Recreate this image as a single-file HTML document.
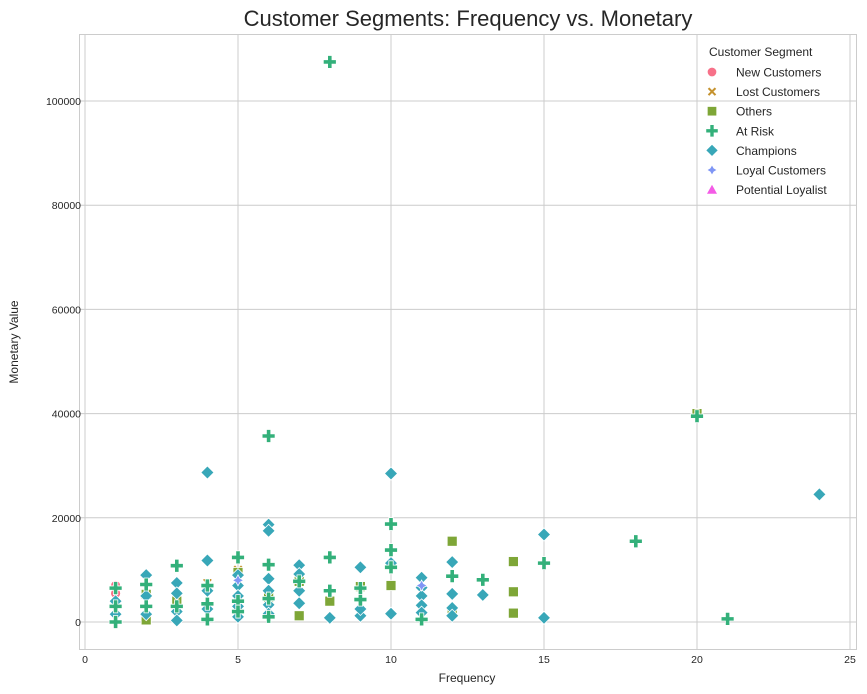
<!DOCTYPE html>
<html><head><meta charset="utf-8"><style>
body{margin:0;background:#fff;}
svg{display:block;font-family:"Liberation Sans","DejaVu Sans",sans-serif;}
</style></head><body>
<svg id="s" width="867" height="694" xmlns="http://www.w3.org/2000/svg">
<rect width="867" height="694" fill="#fff"/>
<g id="grid" stroke="#cccccc" stroke-width="1"></g>
<rect x="79.5" y="34.5" width="777" height="615" fill="none" stroke="#cccccc"/>
<g id="pts"></g>
<text x="468" y="26" font-size="22" text-anchor="middle" fill="#262626">Customer Segments: Frequency vs. Monetary</text>
<text x="467" y="682" font-size="12" text-anchor="middle" fill="#262626">Frequency</text>
<text transform="translate(18,342) rotate(-90)" font-size="12" text-anchor="middle" fill="#262626">Monetary Value</text>
<g id="ticks" font-size="10.5" fill="#262626"></g>
<g id="leg" font-size="12" fill="#262626">
<text x="709" y="56" font-size="12">Customer Segment</text>
</g>
</svg>
<script>
const NS="http://www.w3.org/2000/svg";
const px=f=>85+30.6*f, py=v=>622-v*5.21;
const grid=document.getElementById('grid'),ticks=document.getElementById('ticks');
function el(t,a,p){const e=document.createElementNS(NS,t);for(const k in a)e.setAttribute(k,a[k]);p.appendChild(e);return e;}
for(let f=0;f<=25;f+=5){const x=px(f);el('line',{x1:x,x2:x,y1:34,y2:650},grid);const t=el('text',{x:x,y:663,'text-anchor':'middle'},ticks);t.textContent=f;}
for(let v=0;v<=100;v+=20){const y=py(v);el('line',{x1:79,x2:857,y1:y,y2:y},grid);const t=el('text',{x:81,y:y+4,'text-anchor':'end'},ticks);t.textContent=v*1000;}
const C={new:'#f77189',lost:'#c5922e',oth:'#7ea637',risk:'#33b07a',champ:'#38a7b8',loyal:'#7f96f5',pot:'#f45be6'};
function mark(type,x,y,g,s){s=s||1;const a={fill:C[type],stroke:'#fff','stroke-width':0.8};
 if(type=='new'){a.cx=x;a.cy=y;a.r=5*s;el('circle',a,g);}
 else if(type=='oth'){a.x=x-5*s;a.y=y-5*s;a.width=10*s;a.height=10*s;el('rect',a,g);}
 else if(type=='risk'){const w=2.2*s,l=6.5*s;a.d=`M${x-w},${y-l}h${2*w}v${l-w}h${l-w}v${2*w}h${-(l-w)}v${l-w}h${-2*w}v${-(l-w)}h${-(l-w)}v${-2*w}h${l-w}z`;el('path',a,g);}
 else if(type=='champ'){const r=6.5*s;a.d=`M${x},${y-r}L${x+r},${y}L${x},${y+r}L${x-r},${y}z`;el('path',a,g);}
 else if(type=='loyal'){const r=5.5*s,q=2*s;a.d=`M${x},${y-r}L${x+q},${y-q}L${x+r},${y}L${x+q},${y+q}L${x},${y+r}L${x-q},${y+q}L${x-r},${y}L${x-q},${y-q}z`;el('path',a,g);}
 else if(type=='lost'){const r=5*s;a.d=`M${x-r},${y-r+2}l2,-2l${r-2},${r-2}l${r-2},${-(r-2)}l2,2l${-(r-2)},${r-2}l${r-2},${r-2}l-2,2l${-(r-2)},${-(r-2)}l${-(r-2)},${r-2}l-2,-2l${r-2},${-(r-2)}z`;el('path',a,g);}
 else if(type=='pot'){const r=6*s;a.d=`M${x},${y-r}L${x+r},${y+r*0.8}L${x-r},${y+r*0.8}z`;el('path',a,g);}
}
const P={
new:[[1,7],[1,5.5]],
lost:[[4,7.5],[5,10]],
oth:[[20,40],[12,15.5],[14,11.6],[14,5.8],[14,1.7],[10,7],[8,4],[7,7.8],[7,1.2],[4,6.5],[2,5.3],[2,0.4],[5,9.5],[6,4.8],[3,4],[9,6.8],[12,2.3]],
champ:[[4,28.7],[10,28.5],[24,24.5],[6,18.7],[6,17.5],[15,16.8],[4,11.8],[7,10.9],[9,10.5],[10,11.3],[12,11.5],[11,8.5],[13,5.2],[15,0.8],[12,5.4],[12,2.7],[12,1.2],[11,6.6],[11,5],[11,3.2],[11,1.8],[10,1.6],[9,1.2],[9,2.5],[8,0.8],[7,3.6],[7,6],[7,9.2],[6,8.3],[6,6],[6,3.3],[6,1.6],[5,9],[5,7],[5,5],[5,3],[5,1],[3,7.5],[3,5.5],[3,2],[3,0.3],[2,9],[2,5],[1,4],[1,1.5],[2,1.5],[4,2.5],[4,6]],
loyal:[[11,7],[5,8]],
risk:[[8,107.5],[6,35.7],[20,39.5],[10,18.8],[10,13.8],[18,15.5],[15,11.3],[13,8.1],[12,8.8],[21,0.6],[5,12.4],[3,10.8],[6,11],[8,12.4],[1,6.5],[1,0],[2,7.2],[2,3],[4,3.5],[4,0.5],[5,4],[6,4.5],[7,7.8],[8,6],[9,4.3],[10,10.5],[11,0.5],[3,3],[4,7],[1,3],[5,2],[9,6.5],[6,1]]
};
const g=document.getElementById('pts');
['new','lost','oth','champ','loyal','risk'].forEach(t=>P[t].forEach(p=>mark(t,px(p[0]),py(p[1]),g)));
const leg=document.getElementById('leg');
const L=[['new','New Customers'],['lost','Lost Customers'],['oth','Others'],['risk','At Risk'],['champ','Champions'],['loyal','Loyal Customers'],['pot','Potential Loyalist']];
L.forEach((l,i)=>{const y=72+i*19.6;mark(l[0],712,y,leg,0.95);const t=el('text',{x:736,y:y+4.5},leg);t.textContent=l[1];});
</script>
</body></html>
